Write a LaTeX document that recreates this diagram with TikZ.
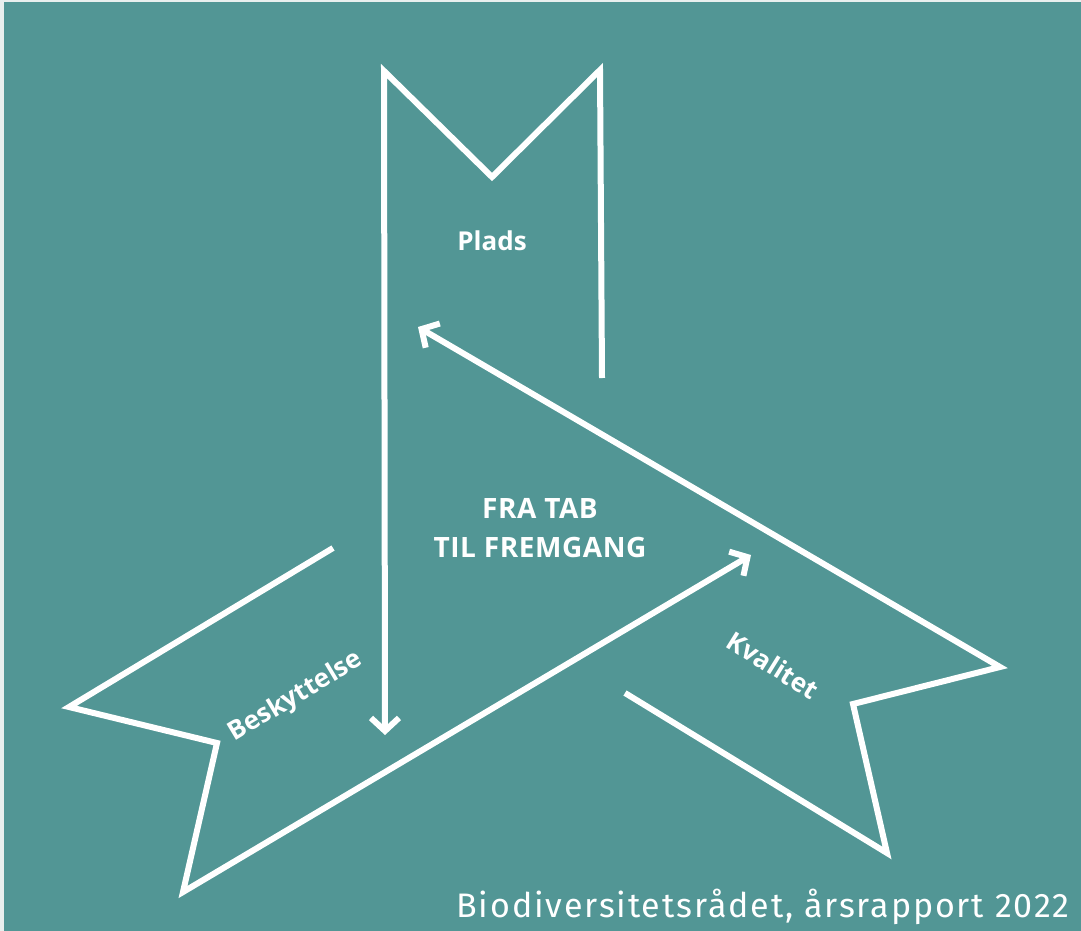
\documentclass[tikz,border=0pt]{standalone}
\usepackage{fontspec}
\setmainfont{Open Sans}
\newfontfamily\capfont[LetterSpace=5.5]{Fira Sans}
\newfontfamily\titlefont[LetterSpace=2]{Open Sans}
\usetikzlibrary{arrows.meta}
\definecolor{bgteal}{RGB}{82,150,149}
\definecolor{edgegray}{RGB}{233,239,238}
\begin{document}
\begin{tikzpicture}[x=1pt,y=-1pt,
  rib/.style={draw=white,line width=6pt,line join=miter,miter limit=10},
  tipend/.style={-{Straight Barb[length=13pt,width=28pt]}},
  lab/.style={text=white,inner sep=0pt,font=\bfseries\fontsize{26}{38}\selectfont},
  ttl/.style={text=white,inner sep=0pt,align=center,font=\titlefont\bfseries\fontsize{28}{38.5}\selectfont},
  caption/.style={text=white,inner sep=0pt,font=\capfont\fontsize{34}{38}\selectfont}]
\fill[edgegray] (0,0) rectangle (1081,931);
\fill[bgteal] (4,2) rectangle (1081,931);
\useasboundingbox (0,0) rectangle (1081,931);
% Plads ribbon
\coordinate (pA) at (602,378);
\coordinate (pB) at (600,70);
\coordinate (pC) at (492,177);
\coordinate (pD) at (384,71);
\coordinate (pE) at (385,735);
\draw[rib,tipend] (pA) -- (pB) -- (pC) -- (pD) -- (pE);
% Kvalitet ribbon
\coordinate (kA) at (625,693);
\coordinate (kB) at (887,853);
\coordinate (kC) at (853,704);
\coordinate (kD) at (1000,667);
\coordinate (kE) at (418,327);
\draw[rib,tipend] (kA) -- (kB) -- (kC) -- (kD) -- (kE);
% Beskyttelse ribbon
\coordinate (bA) at (333,548);
\coordinate (bB) at (69,707);
\coordinate (bC) at (217,743);
\coordinate (bD) at (183,892);
\coordinate (bE) at (751,555);
\draw[rib,tipend] (bA) -- (bB) -- (bC) -- (bD) -- (bE);
% labels
\node[lab] (plads) at (492,241) {Plads};
\node[ttl] (title) at (540,528) {FRA TAB\\TIL FREMGANG};
\node[lab,rotate=31] (besk) at (296,697) {Beskyttelse};
\node[lab,rotate=-32] (kval) at (773,665) {Kvalitet};
\node[caption,anchor=base east] (cap) at (1070,917) {Biodiversitetsrådet, årsrapport 2022};
\end{tikzpicture}
\end{document}
